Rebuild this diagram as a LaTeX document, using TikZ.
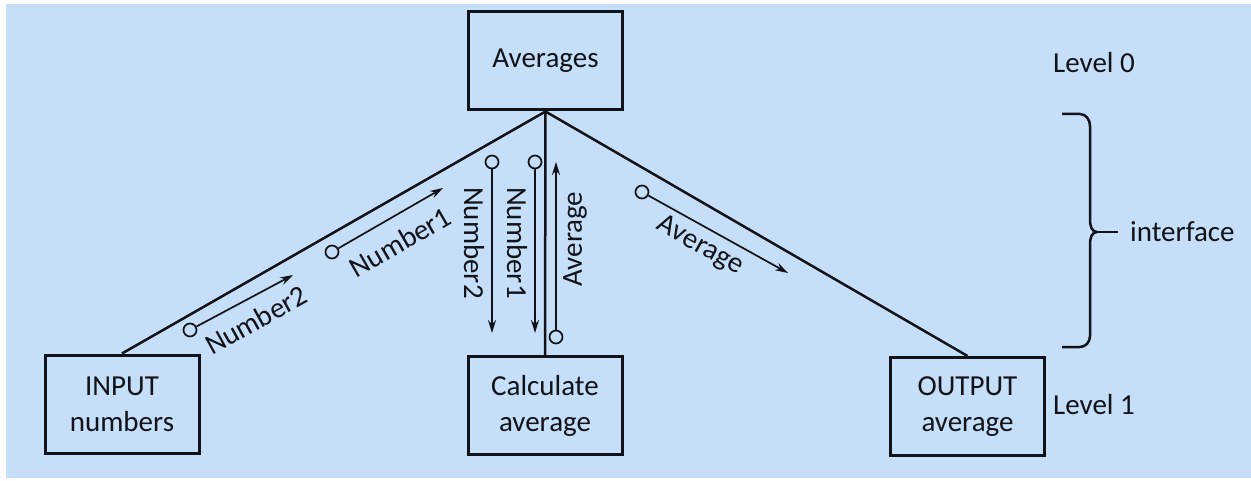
\documentclass[tikz,border=0pt]{standalone}
\usepackage{fontspec}
\setmainfont{Carlito}
\usetikzlibrary{arrows.meta}
\definecolor{bg}{RGB}{196,223,247}
\definecolor{ink}{RGB}{18,18,26}
\begin{document}
\begin{tikzpicture}[x=1pt,y=-1pt,
  box/.style={draw=ink,line width=3pt,minimum width=154pt,minimum height=98pt,inner sep=0pt,align=center,font=\fontsize{29}{36}\selectfont,text=ink},
  link/.style={draw=ink,line width=2.5pt},
  port/.style={circle,draw=ink,line width=1.7pt,minimum size=13pt,inner sep=0pt},
  flow/.style={draw=ink,line width=1.7pt,-{Stealth[length=13pt,width=8pt]}},
  lab/.style={font=\fontsize{29}{34}\selectfont,text=ink,inner sep=0pt},
  bracestyle/.style={draw=ink,line width=2.5pt,line join=round}]
\useasboundingbox (0,0) rectangle (1251,481);
\fill[white] (0,0) rectangle (1251,481);
\fill[bg] (6,4) rectangle (1251,478);

% boxes
\node[box] (avg)  at (545.5,61)  {Averages};
\node[box] (inp)  at (122,404)   {INPUT\\numbers};
\node[box] (calc) at (545,405.5) {Calculate\\average};
\node[box] (out)  at (967.5,406.5) {OUTPUT\\average};

% structure lines
\draw[link] (avg.south) -- (inp.north);
\draw[link] (avg.south) -- (calc.north);
\draw[link] (avg.south) -- (out.north);

% data flows
\node[port] (p1) at (190,330) {};
\coordinate (e1) at (293,275);
\draw[flow] (p1) -- (e1);
\node[lab,rotate=29] (l1) at (256,320) {Number2};

\node[port] (p2) at (332,252) {};
\coordinate (e2) at (443,188);
\draw[flow] (p2) -- (e2);
\node[lab,rotate=30] (l2) at (400,242) {Number1};

\node[port] (p3) at (492,162) {};
\coordinate (e3) at (492,333);
\draw[flow] (p3) -- (e3);
\node[lab,rotate=-90] (l3) at (474,243) {Number2};

\node[port] (p4) at (535,162) {};
\coordinate (e4) at (535,333);
\draw[flow] (p4) -- (e4);
\node[lab,rotate=-90] (l4) at (517,243) {Number1};

\node[port] (p5) at (556,337) {};
\coordinate (e5) at (556,162);
\draw[flow] (p5) -- (e5);
\node[lab,rotate=90] (l5) at (575,239) {Average};

\node[port] (p6) at (642,192) {};
\coordinate (e6) at (788,273);
\draw[flow] (p6) -- (e6);
\node[lab,rotate=-29] (l6) at (700,246) {Average};

% levels
\node[lab] (lv0) at (1094,63) {Level 0};
\node[lab] (lv1) at (1094,405) {Level 1};

% interface brace
\node[lab,anchor=west] (intf) at (1130,232) {interface};
\coordinate (tip) at (1097,232);
\coordinate (tick) at (1118,232);
\draw[bracestyle] (1062,114) -- (1080,114) to[out=0,in=90] (1090,126) -- (1090,220)
  to[out=-90,in=180] (tip) to[out=180,in=90] (1090,244) -- (1090,336)
  to[out=-90,in=0] (1080,347) -- (1062,347);
\draw[bracestyle] (tip) -- (tick);
\end{tikzpicture}
\end{document}
